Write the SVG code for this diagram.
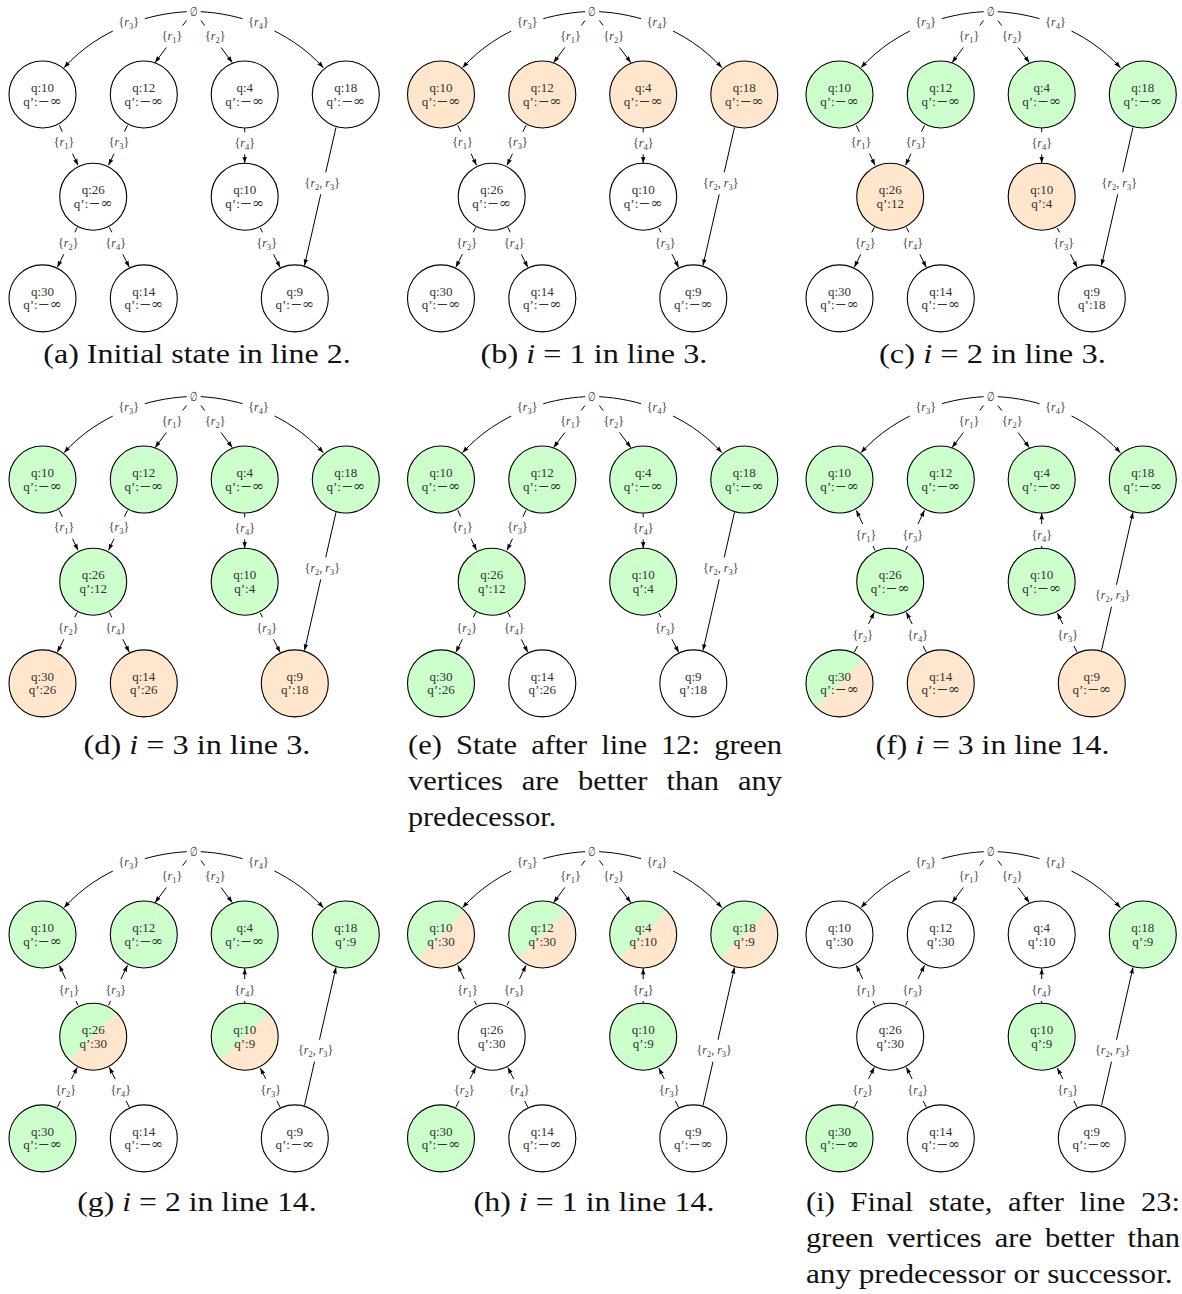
<svg xmlns="http://www.w3.org/2000/svg" width="1182" height="1294" viewBox="0 0 1182 1294">
<defs>
<style>
.nd{stroke:#000;stroke-width:1.1}
.w{fill:#fff}.g{fill:#ccffcc}.o{fill:#ffe6cc}.nf{fill:none}
.t{font-family:"Liberation Serif",serif;font-size:13px;fill:#333;text-anchor:middle}
.inf{font-family:"DejaVu Serif",serif;font-size:14.5px}
.e{fill:none;stroke:#000;stroke-width:1;marker-end:url(#ah)}
.lbl rect{fill:#fff}
.lbl text{font-family:"Liberation Serif",serif;font-size:12px;fill:#444;text-anchor:middle}
.it{font-style:italic}
.sb{font-size:8.5px}
.root{font-family:"DejaVu Serif",serif;font-size:11px;fill:#333;text-anchor:middle}
.cap{font-family:"Liberation Serif",serif;font-size:28px;fill:#111}
</style>
<marker id="ah" markerUnits="userSpaceOnUse" markerWidth="8" markerHeight="6" refX="6.5" refY="3" orient="auto"><path d="M0,0.7 L6.5,3 L0,5.3 Q1.2,3 0,0.7 Z" fill="#000"/></marker>
</defs>
<rect width="1182" height="1294" fill="#fff"/>

<!-- Panel a -->
<g id="panel-a" transform="translate(0,0)">
<g id="a-edges">
<path class="e" d="M186.7,11.7 C150,13.5 100,28 64,67.7"/>
<path class="e" d="M186.5,20.5 L155,62.7"/>
<path class="e" d="M200.9,20.5 L232.4,62.7"/>
<path class="e" d="M200.7,11.7 C237.4,13.5 287.4,28 323.4,67.7"/>
<path class="e" d="M59.3,125.3 L78,165.3"/>
<path class="e" d="M127.5,125.3 L108.5,165.3"/>
<path class="e" d="M244.7,128.2 L244.7,163.2"/>
<path class="e" d="M336,127.3 L304.5,265.5"/>
<path class="e" d="M77.3,227.3 L57.3,267.3"/>
<path class="e" d="M109.3,227.3 L129.3,267.3"/>
<path class="e" d="M260.3,228 L280.2,267.5"/>
<g class="lbl"><rect x="112.8" y="11.5" width="32" height="22"/><text x="128.8" y="26">{<tspan class="it">r</tspan><tspan class="sb" dy="3">3</tspan><tspan dy="-3">}</tspan></text></g>
<g class="lbl"><rect x="156" y="25.5" width="32" height="22"/><text x="172" y="40">{<tspan class="it">r</tspan><tspan class="sb" dy="3">1</tspan><tspan dy="-3">}</tspan></text></g>
<g class="lbl"><rect x="199.3" y="25.5" width="32" height="22"/><text x="215.3" y="40">{<tspan class="it">r</tspan><tspan class="sb" dy="3">2</tspan><tspan dy="-3">}</tspan></text></g>
<g class="lbl"><rect x="242.5" y="11.5" width="32" height="22"/><text x="258.5" y="26">{<tspan class="it">r</tspan><tspan class="sb" dy="3">4</tspan><tspan dy="-3">}</tspan></text></g>
<g class="lbl"><rect x="48" y="131.7" width="32" height="22"/><text x="64" y="146.2">{<tspan class="it">r</tspan><tspan class="sb" dy="3">1</tspan><tspan dy="-3">}</tspan></text></g>
<g class="lbl"><rect x="103" y="131.7" width="32" height="22"/><text x="119" y="146.2">{<tspan class="it">r</tspan><tspan class="sb" dy="3">3</tspan><tspan dy="-3">}</tspan></text></g>
<g class="lbl"><rect x="228.7" y="132.3" width="32" height="22"/><text x="244.7" y="146.8">{<tspan class="it">r</tspan><tspan class="sb" dy="3">4</tspan><tspan dy="-3">}</tspan></text></g>
<g class="lbl"><rect x="299.3" y="172.3" width="46" height="22"/><text x="322.3" y="186.8">{<tspan class="it">r</tspan><tspan class="sb" dy="3">2</tspan><tspan dy="-3">, </tspan><tspan class="it">r</tspan><tspan class="sb" dy="3">3</tspan><tspan dy="-3">}</tspan></text></g>
<g class="lbl"><rect x="52.3" y="232.3" width="32" height="22"/><text x="68.3" y="246.8">{<tspan class="it">r</tspan><tspan class="sb" dy="3">2</tspan><tspan dy="-3">}</tspan></text></g>
<g class="lbl"><rect x="99.7" y="232.3" width="32" height="22"/><text x="115.7" y="246.8">{<tspan class="it">r</tspan><tspan class="sb" dy="3">4</tspan><tspan dy="-3">}</tspan></text></g>
<g class="lbl"><rect x="250.7" y="232.3" width="32" height="22"/><text x="266.7" y="246.8">{<tspan class="it">r</tspan><tspan class="sb" dy="3">3</tspan><tspan dy="-3">}</tspan></text></g>
</g>
<g id="a-root"><text class="root" transform="translate(193.7,15.5) scale(0.8,1.2)">∅</text></g>
<g id="a-n1"><circle class="nd w" cx="42.5" cy="94.5" r="33.5"/><text class="t" x="42.5" y="92">q:10</text><text class="t" x="42.5" y="105.5">q’:<tspan class="inf">−∞</tspan></text></g>
<g id="a-n2"><circle class="nd w" cx="143.8" cy="94.5" r="33.5"/><text class="t" x="143.8" y="92">q:12</text><text class="t" x="143.8" y="105.5">q’:<tspan class="inf">−∞</tspan></text></g>
<g id="a-n3"><circle class="nd w" cx="244.7" cy="94.5" r="33.5"/><text class="t" x="244.7" y="92">q:4</text><text class="t" x="244.7" y="105.5">q’:<tspan class="inf">−∞</tspan></text></g>
<g id="a-n4"><circle class="nd w" cx="345.8" cy="94.5" r="33.5"/><text class="t" x="345.8" y="92">q:18</text><text class="t" x="345.8" y="105.5">q’:<tspan class="inf">−∞</tspan></text></g>
<g id="a-n5"><circle class="nd w" cx="93.2" cy="196.7" r="33.5"/><text class="t" x="93.2" y="194.2">q:26</text><text class="t" x="93.2" y="207.7">q’:<tspan class="inf">−∞</tspan></text></g>
<g id="a-n6"><circle class="nd w" cx="244.7" cy="196.7" r="33.5"/><text class="t" x="244.7" y="194.2">q:10</text><text class="t" x="244.7" y="207.7">q’:<tspan class="inf">−∞</tspan></text></g>
<g id="a-n7"><circle class="nd w" cx="42.5" cy="298.4" r="33.5"/><text class="t" x="42.5" y="295.9">q:30</text><text class="t" x="42.5" y="309.4">q’:<tspan class="inf">−∞</tspan></text></g>
<g id="a-n8"><circle class="nd w" cx="143.8" cy="298.4" r="33.5"/><text class="t" x="143.8" y="295.9">q:14</text><text class="t" x="143.8" y="309.4">q’:<tspan class="inf">−∞</tspan></text></g>
<g id="a-n9"><circle class="nd w" cx="294.8" cy="298.4" r="33.5"/><text class="t" x="294.8" y="295.9">q:9</text><text class="t" x="294.8" y="309.4">q’:<tspan class="inf">−∞</tspan></text></g>
</g>

<!-- Panel b -->
<g id="panel-b" transform="translate(398.5,0)">
<g id="b-edges">
<path class="e" d="M186.7,11.7 C150,13.5 100,28 64,67.7"/>
<path class="e" d="M186.5,20.5 L155,62.7"/>
<path class="e" d="M200.9,20.5 L232.4,62.7"/>
<path class="e" d="M200.7,11.7 C237.4,13.5 287.4,28 323.4,67.7"/>
<path class="e" d="M59.3,125.3 L78,165.3"/>
<path class="e" d="M127.5,125.3 L108.5,165.3"/>
<path class="e" d="M244.7,128.2 L244.7,163.2"/>
<path class="e" d="M336,127.3 L304.5,265.5"/>
<path class="e" d="M77.3,227.3 L57.3,267.3"/>
<path class="e" d="M109.3,227.3 L129.3,267.3"/>
<path class="e" d="M260.3,228 L280.2,267.5"/>
<g class="lbl"><rect x="112.8" y="11.5" width="32" height="22"/><text x="128.8" y="26">{<tspan class="it">r</tspan><tspan class="sb" dy="3">3</tspan><tspan dy="-3">}</tspan></text></g>
<g class="lbl"><rect x="156" y="25.5" width="32" height="22"/><text x="172" y="40">{<tspan class="it">r</tspan><tspan class="sb" dy="3">1</tspan><tspan dy="-3">}</tspan></text></g>
<g class="lbl"><rect x="199.3" y="25.5" width="32" height="22"/><text x="215.3" y="40">{<tspan class="it">r</tspan><tspan class="sb" dy="3">2</tspan><tspan dy="-3">}</tspan></text></g>
<g class="lbl"><rect x="242.5" y="11.5" width="32" height="22"/><text x="258.5" y="26">{<tspan class="it">r</tspan><tspan class="sb" dy="3">4</tspan><tspan dy="-3">}</tspan></text></g>
<g class="lbl"><rect x="48" y="131.7" width="32" height="22"/><text x="64" y="146.2">{<tspan class="it">r</tspan><tspan class="sb" dy="3">1</tspan><tspan dy="-3">}</tspan></text></g>
<g class="lbl"><rect x="103" y="131.7" width="32" height="22"/><text x="119" y="146.2">{<tspan class="it">r</tspan><tspan class="sb" dy="3">3</tspan><tspan dy="-3">}</tspan></text></g>
<g class="lbl"><rect x="228.7" y="132.3" width="32" height="22"/><text x="244.7" y="146.8">{<tspan class="it">r</tspan><tspan class="sb" dy="3">4</tspan><tspan dy="-3">}</tspan></text></g>
<g class="lbl"><rect x="299.3" y="172.3" width="46" height="22"/><text x="322.3" y="186.8">{<tspan class="it">r</tspan><tspan class="sb" dy="3">2</tspan><tspan dy="-3">, </tspan><tspan class="it">r</tspan><tspan class="sb" dy="3">3</tspan><tspan dy="-3">}</tspan></text></g>
<g class="lbl"><rect x="52.3" y="232.3" width="32" height="22"/><text x="68.3" y="246.8">{<tspan class="it">r</tspan><tspan class="sb" dy="3">2</tspan><tspan dy="-3">}</tspan></text></g>
<g class="lbl"><rect x="99.7" y="232.3" width="32" height="22"/><text x="115.7" y="246.8">{<tspan class="it">r</tspan><tspan class="sb" dy="3">4</tspan><tspan dy="-3">}</tspan></text></g>
<g class="lbl"><rect x="250.7" y="232.3" width="32" height="22"/><text x="266.7" y="246.8">{<tspan class="it">r</tspan><tspan class="sb" dy="3">3</tspan><tspan dy="-3">}</tspan></text></g>
</g>
<g id="b-root"><text class="root" transform="translate(193.7,15.5) scale(0.8,1.2)">∅</text></g>
<g id="b-n1"><circle class="nd o" cx="42.5" cy="94.5" r="33.5"/><text class="t" x="42.5" y="92">q:10</text><text class="t" x="42.5" y="105.5">q’:<tspan class="inf">−∞</tspan></text></g>
<g id="b-n2"><circle class="nd o" cx="143.8" cy="94.5" r="33.5"/><text class="t" x="143.8" y="92">q:12</text><text class="t" x="143.8" y="105.5">q’:<tspan class="inf">−∞</tspan></text></g>
<g id="b-n3"><circle class="nd o" cx="244.7" cy="94.5" r="33.5"/><text class="t" x="244.7" y="92">q:4</text><text class="t" x="244.7" y="105.5">q’:<tspan class="inf">−∞</tspan></text></g>
<g id="b-n4"><circle class="nd o" cx="345.8" cy="94.5" r="33.5"/><text class="t" x="345.8" y="92">q:18</text><text class="t" x="345.8" y="105.5">q’:<tspan class="inf">−∞</tspan></text></g>
<g id="b-n5"><circle class="nd w" cx="93.2" cy="196.7" r="33.5"/><text class="t" x="93.2" y="194.2">q:26</text><text class="t" x="93.2" y="207.7">q’:<tspan class="inf">−∞</tspan></text></g>
<g id="b-n6"><circle class="nd w" cx="244.7" cy="196.7" r="33.5"/><text class="t" x="244.7" y="194.2">q:10</text><text class="t" x="244.7" y="207.7">q’:<tspan class="inf">−∞</tspan></text></g>
<g id="b-n7"><circle class="nd w" cx="42.5" cy="298.4" r="33.5"/><text class="t" x="42.5" y="295.9">q:30</text><text class="t" x="42.5" y="309.4">q’:<tspan class="inf">−∞</tspan></text></g>
<g id="b-n8"><circle class="nd w" cx="143.8" cy="298.4" r="33.5"/><text class="t" x="143.8" y="295.9">q:14</text><text class="t" x="143.8" y="309.4">q’:<tspan class="inf">−∞</tspan></text></g>
<g id="b-n9"><circle class="nd w" cx="294.8" cy="298.4" r="33.5"/><text class="t" x="294.8" y="295.9">q:9</text><text class="t" x="294.8" y="309.4">q’:<tspan class="inf">−∞</tspan></text></g>
</g>

<!-- Panel c -->
<g id="panel-c" transform="translate(797,0)">
<g id="c-edges">
<path class="e" d="M186.7,11.7 C150,13.5 100,28 64,67.7"/>
<path class="e" d="M186.5,20.5 L155,62.7"/>
<path class="e" d="M200.9,20.5 L232.4,62.7"/>
<path class="e" d="M200.7,11.7 C237.4,13.5 287.4,28 323.4,67.7"/>
<path class="e" d="M59.3,125.3 L78,165.3"/>
<path class="e" d="M127.5,125.3 L108.5,165.3"/>
<path class="e" d="M244.7,128.2 L244.7,163.2"/>
<path class="e" d="M336,127.3 L304.5,265.5"/>
<path class="e" d="M77.3,227.3 L57.3,267.3"/>
<path class="e" d="M109.3,227.3 L129.3,267.3"/>
<path class="e" d="M260.3,228 L280.2,267.5"/>
<g class="lbl"><rect x="112.8" y="11.5" width="32" height="22"/><text x="128.8" y="26">{<tspan class="it">r</tspan><tspan class="sb" dy="3">3</tspan><tspan dy="-3">}</tspan></text></g>
<g class="lbl"><rect x="156" y="25.5" width="32" height="22"/><text x="172" y="40">{<tspan class="it">r</tspan><tspan class="sb" dy="3">1</tspan><tspan dy="-3">}</tspan></text></g>
<g class="lbl"><rect x="199.3" y="25.5" width="32" height="22"/><text x="215.3" y="40">{<tspan class="it">r</tspan><tspan class="sb" dy="3">2</tspan><tspan dy="-3">}</tspan></text></g>
<g class="lbl"><rect x="242.5" y="11.5" width="32" height="22"/><text x="258.5" y="26">{<tspan class="it">r</tspan><tspan class="sb" dy="3">4</tspan><tspan dy="-3">}</tspan></text></g>
<g class="lbl"><rect x="48" y="131.7" width="32" height="22"/><text x="64" y="146.2">{<tspan class="it">r</tspan><tspan class="sb" dy="3">1</tspan><tspan dy="-3">}</tspan></text></g>
<g class="lbl"><rect x="103" y="131.7" width="32" height="22"/><text x="119" y="146.2">{<tspan class="it">r</tspan><tspan class="sb" dy="3">3</tspan><tspan dy="-3">}</tspan></text></g>
<g class="lbl"><rect x="228.7" y="132.3" width="32" height="22"/><text x="244.7" y="146.8">{<tspan class="it">r</tspan><tspan class="sb" dy="3">4</tspan><tspan dy="-3">}</tspan></text></g>
<g class="lbl"><rect x="299.3" y="172.3" width="46" height="22"/><text x="322.3" y="186.8">{<tspan class="it">r</tspan><tspan class="sb" dy="3">2</tspan><tspan dy="-3">, </tspan><tspan class="it">r</tspan><tspan class="sb" dy="3">3</tspan><tspan dy="-3">}</tspan></text></g>
<g class="lbl"><rect x="52.3" y="232.3" width="32" height="22"/><text x="68.3" y="246.8">{<tspan class="it">r</tspan><tspan class="sb" dy="3">2</tspan><tspan dy="-3">}</tspan></text></g>
<g class="lbl"><rect x="99.7" y="232.3" width="32" height="22"/><text x="115.7" y="246.8">{<tspan class="it">r</tspan><tspan class="sb" dy="3">4</tspan><tspan dy="-3">}</tspan></text></g>
<g class="lbl"><rect x="250.7" y="232.3" width="32" height="22"/><text x="266.7" y="246.8">{<tspan class="it">r</tspan><tspan class="sb" dy="3">3</tspan><tspan dy="-3">}</tspan></text></g>
</g>
<g id="c-root"><text class="root" transform="translate(193.7,15.5) scale(0.8,1.2)">∅</text></g>
<g id="c-n1"><circle class="nd g" cx="42.5" cy="94.5" r="33.5"/><text class="t" x="42.5" y="92">q:10</text><text class="t" x="42.5" y="105.5">q’:<tspan class="inf">−∞</tspan></text></g>
<g id="c-n2"><circle class="nd g" cx="143.8" cy="94.5" r="33.5"/><text class="t" x="143.8" y="92">q:12</text><text class="t" x="143.8" y="105.5">q’:<tspan class="inf">−∞</tspan></text></g>
<g id="c-n3"><circle class="nd g" cx="244.7" cy="94.5" r="33.5"/><text class="t" x="244.7" y="92">q:4</text><text class="t" x="244.7" y="105.5">q’:<tspan class="inf">−∞</tspan></text></g>
<g id="c-n4"><circle class="nd g" cx="345.8" cy="94.5" r="33.5"/><text class="t" x="345.8" y="92">q:18</text><text class="t" x="345.8" y="105.5">q’:<tspan class="inf">−∞</tspan></text></g>
<g id="c-n5"><circle class="nd o" cx="93.2" cy="196.7" r="33.5"/><text class="t" x="93.2" y="194.2">q:26</text><text class="t" x="93.2" y="207.7">q’:12</text></g>
<g id="c-n6"><circle class="nd o" cx="244.7" cy="196.7" r="33.5"/><text class="t" x="244.7" y="194.2">q:10</text><text class="t" x="244.7" y="207.7">q’:4</text></g>
<g id="c-n7"><circle class="nd w" cx="42.5" cy="298.4" r="33.5"/><text class="t" x="42.5" y="295.9">q:30</text><text class="t" x="42.5" y="309.4">q’:<tspan class="inf">−∞</tspan></text></g>
<g id="c-n8"><circle class="nd w" cx="143.8" cy="298.4" r="33.5"/><text class="t" x="143.8" y="295.9">q:14</text><text class="t" x="143.8" y="309.4">q’:<tspan class="inf">−∞</tspan></text></g>
<g id="c-n9"><circle class="nd w" cx="294.8" cy="298.4" r="33.5"/><text class="t" x="294.8" y="295.9">q:9</text><text class="t" x="294.8" y="309.4">q’:18</text></g>
</g>

<!-- Panel d -->
<g id="panel-d" transform="translate(0,385)">
<g id="d-edges">
<path class="e" d="M186.7,11.7 C150,13.5 100,28 64,67.7"/>
<path class="e" d="M186.5,20.5 L155,62.7"/>
<path class="e" d="M200.9,20.5 L232.4,62.7"/>
<path class="e" d="M200.7,11.7 C237.4,13.5 287.4,28 323.4,67.7"/>
<path class="e" d="M59.3,125.3 L78,165.3"/>
<path class="e" d="M127.5,125.3 L108.5,165.3"/>
<path class="e" d="M244.7,128.2 L244.7,163.2"/>
<path class="e" d="M336,127.3 L304.5,265.5"/>
<path class="e" d="M77.3,227.3 L57.3,267.3"/>
<path class="e" d="M109.3,227.3 L129.3,267.3"/>
<path class="e" d="M260.3,228 L280.2,267.5"/>
<g class="lbl"><rect x="112.8" y="11.5" width="32" height="22"/><text x="128.8" y="26">{<tspan class="it">r</tspan><tspan class="sb" dy="3">3</tspan><tspan dy="-3">}</tspan></text></g>
<g class="lbl"><rect x="156" y="25.5" width="32" height="22"/><text x="172" y="40">{<tspan class="it">r</tspan><tspan class="sb" dy="3">1</tspan><tspan dy="-3">}</tspan></text></g>
<g class="lbl"><rect x="199.3" y="25.5" width="32" height="22"/><text x="215.3" y="40">{<tspan class="it">r</tspan><tspan class="sb" dy="3">2</tspan><tspan dy="-3">}</tspan></text></g>
<g class="lbl"><rect x="242.5" y="11.5" width="32" height="22"/><text x="258.5" y="26">{<tspan class="it">r</tspan><tspan class="sb" dy="3">4</tspan><tspan dy="-3">}</tspan></text></g>
<g class="lbl"><rect x="48" y="131.7" width="32" height="22"/><text x="64" y="146.2">{<tspan class="it">r</tspan><tspan class="sb" dy="3">1</tspan><tspan dy="-3">}</tspan></text></g>
<g class="lbl"><rect x="103" y="131.7" width="32" height="22"/><text x="119" y="146.2">{<tspan class="it">r</tspan><tspan class="sb" dy="3">3</tspan><tspan dy="-3">}</tspan></text></g>
<g class="lbl"><rect x="228.7" y="132.3" width="32" height="22"/><text x="244.7" y="146.8">{<tspan class="it">r</tspan><tspan class="sb" dy="3">4</tspan><tspan dy="-3">}</tspan></text></g>
<g class="lbl"><rect x="299.3" y="172.3" width="46" height="22"/><text x="322.3" y="186.8">{<tspan class="it">r</tspan><tspan class="sb" dy="3">2</tspan><tspan dy="-3">, </tspan><tspan class="it">r</tspan><tspan class="sb" dy="3">3</tspan><tspan dy="-3">}</tspan></text></g>
<g class="lbl"><rect x="52.3" y="232.3" width="32" height="22"/><text x="68.3" y="246.8">{<tspan class="it">r</tspan><tspan class="sb" dy="3">2</tspan><tspan dy="-3">}</tspan></text></g>
<g class="lbl"><rect x="99.7" y="232.3" width="32" height="22"/><text x="115.7" y="246.8">{<tspan class="it">r</tspan><tspan class="sb" dy="3">4</tspan><tspan dy="-3">}</tspan></text></g>
<g class="lbl"><rect x="250.7" y="232.3" width="32" height="22"/><text x="266.7" y="246.8">{<tspan class="it">r</tspan><tspan class="sb" dy="3">3</tspan><tspan dy="-3">}</tspan></text></g>
</g>
<g id="d-root"><text class="root" transform="translate(193.7,15.5) scale(0.8,1.2)">∅</text></g>
<g id="d-n1"><circle class="nd g" cx="42.5" cy="94.5" r="33.5"/><text class="t" x="42.5" y="92">q:10</text><text class="t" x="42.5" y="105.5">q’:<tspan class="inf">−∞</tspan></text></g>
<g id="d-n2"><circle class="nd g" cx="143.8" cy="94.5" r="33.5"/><text class="t" x="143.8" y="92">q:12</text><text class="t" x="143.8" y="105.5">q’:<tspan class="inf">−∞</tspan></text></g>
<g id="d-n3"><circle class="nd g" cx="244.7" cy="94.5" r="33.5"/><text class="t" x="244.7" y="92">q:4</text><text class="t" x="244.7" y="105.5">q’:<tspan class="inf">−∞</tspan></text></g>
<g id="d-n4"><circle class="nd g" cx="345.8" cy="94.5" r="33.5"/><text class="t" x="345.8" y="92">q:18</text><text class="t" x="345.8" y="105.5">q’:<tspan class="inf">−∞</tspan></text></g>
<g id="d-n5"><circle class="nd g" cx="93.2" cy="196.7" r="33.5"/><text class="t" x="93.2" y="194.2">q:26</text><text class="t" x="93.2" y="207.7">q’:12</text></g>
<g id="d-n6"><circle class="nd g" cx="244.7" cy="196.7" r="33.5"/><text class="t" x="244.7" y="194.2">q:10</text><text class="t" x="244.7" y="207.7">q’:4</text></g>
<g id="d-n7"><circle class="nd o" cx="42.5" cy="298.4" r="33.5"/><text class="t" x="42.5" y="295.9">q:30</text><text class="t" x="42.5" y="309.4">q’:26</text></g>
<g id="d-n8"><circle class="nd o" cx="143.8" cy="298.4" r="33.5"/><text class="t" x="143.8" y="295.9">q:14</text><text class="t" x="143.8" y="309.4">q’:26</text></g>
<g id="d-n9"><circle class="nd o" cx="294.8" cy="298.4" r="33.5"/><text class="t" x="294.8" y="295.9">q:9</text><text class="t" x="294.8" y="309.4">q’:18</text></g>
</g>

<!-- Panel e -->
<g id="panel-e" transform="translate(398.5,385)">
<g id="e-edges">
<path class="e" d="M186.7,11.7 C150,13.5 100,28 64,67.7"/>
<path class="e" d="M186.5,20.5 L155,62.7"/>
<path class="e" d="M200.9,20.5 L232.4,62.7"/>
<path class="e" d="M200.7,11.7 C237.4,13.5 287.4,28 323.4,67.7"/>
<path class="e" d="M59.3,125.3 L78,165.3"/>
<path class="e" d="M127.5,125.3 L108.5,165.3"/>
<path class="e" d="M244.7,128.2 L244.7,163.2"/>
<path class="e" d="M336,127.3 L304.5,265.5"/>
<path class="e" d="M77.3,227.3 L57.3,267.3"/>
<path class="e" d="M109.3,227.3 L129.3,267.3"/>
<path class="e" d="M260.3,228 L280.2,267.5"/>
<g class="lbl"><rect x="112.8" y="11.5" width="32" height="22"/><text x="128.8" y="26">{<tspan class="it">r</tspan><tspan class="sb" dy="3">3</tspan><tspan dy="-3">}</tspan></text></g>
<g class="lbl"><rect x="156" y="25.5" width="32" height="22"/><text x="172" y="40">{<tspan class="it">r</tspan><tspan class="sb" dy="3">1</tspan><tspan dy="-3">}</tspan></text></g>
<g class="lbl"><rect x="199.3" y="25.5" width="32" height="22"/><text x="215.3" y="40">{<tspan class="it">r</tspan><tspan class="sb" dy="3">2</tspan><tspan dy="-3">}</tspan></text></g>
<g class="lbl"><rect x="242.5" y="11.5" width="32" height="22"/><text x="258.5" y="26">{<tspan class="it">r</tspan><tspan class="sb" dy="3">4</tspan><tspan dy="-3">}</tspan></text></g>
<g class="lbl"><rect x="48" y="131.7" width="32" height="22"/><text x="64" y="146.2">{<tspan class="it">r</tspan><tspan class="sb" dy="3">1</tspan><tspan dy="-3">}</tspan></text></g>
<g class="lbl"><rect x="103" y="131.7" width="32" height="22"/><text x="119" y="146.2">{<tspan class="it">r</tspan><tspan class="sb" dy="3">3</tspan><tspan dy="-3">}</tspan></text></g>
<g class="lbl"><rect x="228.7" y="132.3" width="32" height="22"/><text x="244.7" y="146.8">{<tspan class="it">r</tspan><tspan class="sb" dy="3">4</tspan><tspan dy="-3">}</tspan></text></g>
<g class="lbl"><rect x="299.3" y="172.3" width="46" height="22"/><text x="322.3" y="186.8">{<tspan class="it">r</tspan><tspan class="sb" dy="3">2</tspan><tspan dy="-3">, </tspan><tspan class="it">r</tspan><tspan class="sb" dy="3">3</tspan><tspan dy="-3">}</tspan></text></g>
<g class="lbl"><rect x="52.3" y="232.3" width="32" height="22"/><text x="68.3" y="246.8">{<tspan class="it">r</tspan><tspan class="sb" dy="3">2</tspan><tspan dy="-3">}</tspan></text></g>
<g class="lbl"><rect x="99.7" y="232.3" width="32" height="22"/><text x="115.7" y="246.8">{<tspan class="it">r</tspan><tspan class="sb" dy="3">4</tspan><tspan dy="-3">}</tspan></text></g>
<g class="lbl"><rect x="250.7" y="232.3" width="32" height="22"/><text x="266.7" y="246.8">{<tspan class="it">r</tspan><tspan class="sb" dy="3">3</tspan><tspan dy="-3">}</tspan></text></g>
</g>
<g id="e-root"><text class="root" transform="translate(193.7,15.5) scale(0.8,1.2)">∅</text></g>
<g id="e-n1"><circle class="nd g" cx="42.5" cy="94.5" r="33.5"/><text class="t" x="42.5" y="92">q:10</text><text class="t" x="42.5" y="105.5">q’:<tspan class="inf">−∞</tspan></text></g>
<g id="e-n2"><circle class="nd g" cx="143.8" cy="94.5" r="33.5"/><text class="t" x="143.8" y="92">q:12</text><text class="t" x="143.8" y="105.5">q’:<tspan class="inf">−∞</tspan></text></g>
<g id="e-n3"><circle class="nd g" cx="244.7" cy="94.5" r="33.5"/><text class="t" x="244.7" y="92">q:4</text><text class="t" x="244.7" y="105.5">q’:<tspan class="inf">−∞</tspan></text></g>
<g id="e-n4"><circle class="nd g" cx="345.8" cy="94.5" r="33.5"/><text class="t" x="345.8" y="92">q:18</text><text class="t" x="345.8" y="105.5">q’:<tspan class="inf">−∞</tspan></text></g>
<g id="e-n5"><circle class="nd g" cx="93.2" cy="196.7" r="33.5"/><text class="t" x="93.2" y="194.2">q:26</text><text class="t" x="93.2" y="207.7">q’:12</text></g>
<g id="e-n6"><circle class="nd g" cx="244.7" cy="196.7" r="33.5"/><text class="t" x="244.7" y="194.2">q:10</text><text class="t" x="244.7" y="207.7">q’:4</text></g>
<g id="e-n7"><circle class="nd g" cx="42.5" cy="298.4" r="33.5"/><text class="t" x="42.5" y="295.9">q:30</text><text class="t" x="42.5" y="309.4">q’:26</text></g>
<g id="e-n8"><circle class="nd w" cx="143.8" cy="298.4" r="33.5"/><text class="t" x="143.8" y="295.9">q:14</text><text class="t" x="143.8" y="309.4">q’:26</text></g>
<g id="e-n9"><circle class="nd w" cx="294.8" cy="298.4" r="33.5"/><text class="t" x="294.8" y="295.9">q:9</text><text class="t" x="294.8" y="309.4">q’:18</text></g>
</g>

<!-- Panel f -->
<g id="panel-f" transform="translate(797,385)">
<g id="f-edges">
<path class="e" d="M186.7,11.7 C150,13.5 100,28 64,67.7"/>
<path class="e" d="M186.5,20.5 L155,62.7"/>
<path class="e" d="M200.9,20.5 L232.4,62.7"/>
<path class="e" d="M200.7,11.7 C237.4,13.5 287.4,28 323.4,67.7"/>
<path class="e" d="M78,165.3 L59.3,125.3"/>
<path class="e" d="M108.5,165.3 L127.5,125.3"/>
<path class="e" d="M244.7,163.2 L244.7,128.2"/>
<path class="e" d="M304.5,265.5 L336,127.3"/>
<path class="e" d="M57.3,267.3 L77.3,227.3"/>
<path class="e" d="M129.3,267.3 L109.3,227.3"/>
<path class="e" d="M280.2,267.5 L260.3,228"/>
<g class="lbl"><rect x="112.8" y="11.5" width="32" height="22"/><text x="128.8" y="26">{<tspan class="it">r</tspan><tspan class="sb" dy="3">3</tspan><tspan dy="-3">}</tspan></text></g>
<g class="lbl"><rect x="156" y="25.5" width="32" height="22"/><text x="172" y="40">{<tspan class="it">r</tspan><tspan class="sb" dy="3">1</tspan><tspan dy="-3">}</tspan></text></g>
<g class="lbl"><rect x="199.3" y="25.5" width="32" height="22"/><text x="215.3" y="40">{<tspan class="it">r</tspan><tspan class="sb" dy="3">2</tspan><tspan dy="-3">}</tspan></text></g>
<g class="lbl"><rect x="242.5" y="11.5" width="32" height="22"/><text x="258.5" y="26">{<tspan class="it">r</tspan><tspan class="sb" dy="3">4</tspan><tspan dy="-3">}</tspan></text></g>
<g class="lbl"><rect x="53" y="139" width="32" height="22"/><text x="69" y="153.5">{<tspan class="it">r</tspan><tspan class="sb" dy="3">1</tspan><tspan dy="-3">}</tspan></text></g>
<g class="lbl"><rect x="99.7" y="139" width="32" height="22"/><text x="115.7" y="153.5">{<tspan class="it">r</tspan><tspan class="sb" dy="3">3</tspan><tspan dy="-3">}</tspan></text></g>
<g class="lbl"><rect x="228.7" y="139" width="32" height="22"/><text x="244.7" y="153.5">{<tspan class="it">r</tspan><tspan class="sb" dy="3">4</tspan><tspan dy="-3">}</tspan></text></g>
<g class="lbl"><rect x="292.7" y="199.7" width="46" height="22"/><text x="315.7" y="214.2">{<tspan class="it">r</tspan><tspan class="sb" dy="3">2</tspan><tspan dy="-3">, </tspan><tspan class="it">r</tspan><tspan class="sb" dy="3">3</tspan><tspan dy="-3">}</tspan></text></g>
<g class="lbl"><rect x="49.7" y="239" width="32" height="22"/><text x="65.7" y="253.5">{<tspan class="it">r</tspan><tspan class="sb" dy="3">2</tspan><tspan dy="-3">}</tspan></text></g>
<g class="lbl"><rect x="104.7" y="239" width="32" height="22"/><text x="120.7" y="253.5">{<tspan class="it">r</tspan><tspan class="sb" dy="3">4</tspan><tspan dy="-3">}</tspan></text></g>
<g class="lbl"><rect x="254.7" y="239" width="32" height="22"/><text x="270.7" y="253.5">{<tspan class="it">r</tspan><tspan class="sb" dy="3">3</tspan><tspan dy="-3">}</tspan></text></g>
</g>
<g id="f-root"><text class="root" transform="translate(193.7,15.5) scale(0.8,1.2)">∅</text></g>
<g id="f-n1"><circle class="nd g" cx="42.5" cy="94.5" r="33.5"/><text class="t" x="42.5" y="92">q:10</text><text class="t" x="42.5" y="105.5">q’:<tspan class="inf">−∞</tspan></text></g>
<g id="f-n2"><circle class="nd g" cx="143.8" cy="94.5" r="33.5"/><text class="t" x="143.8" y="92">q:12</text><text class="t" x="143.8" y="105.5">q’:<tspan class="inf">−∞</tspan></text></g>
<g id="f-n3"><circle class="nd g" cx="244.7" cy="94.5" r="33.5"/><text class="t" x="244.7" y="92">q:4</text><text class="t" x="244.7" y="105.5">q’:<tspan class="inf">−∞</tspan></text></g>
<g id="f-n4"><circle class="nd g" cx="345.8" cy="94.5" r="33.5"/><text class="t" x="345.8" y="92">q:18</text><text class="t" x="345.8" y="105.5">q’:<tspan class="inf">−∞</tspan></text></g>
<g id="f-n5"><circle class="nd g" cx="93.2" cy="196.7" r="33.5"/><text class="t" x="93.2" y="194.2">q:26</text><text class="t" x="93.2" y="207.7">q’:<tspan class="inf">−∞</tspan></text></g>
<g id="f-n6"><circle class="nd g" cx="244.7" cy="196.7" r="33.5"/><text class="t" x="244.7" y="194.2">q:10</text><text class="t" x="244.7" y="207.7">q’:<tspan class="inf">−∞</tspan></text></g>
<g id="f-n7"><circle class="g" cx="42.5" cy="298.4" r="33.5"/><path class="o" d="M18.81,322.09A33.5,33.5 0 0 0 66.19,274.71Z"/><circle class="nd nf" cx="42.5" cy="298.4" r="33.5"/><text class="t" x="42.5" y="295.9">q:30</text><text class="t" x="42.5" y="309.4">q’:<tspan class="inf">−∞</tspan></text></g>
<g id="f-n8"><circle class="nd o" cx="143.8" cy="298.4" r="33.5"/><text class="t" x="143.8" y="295.9">q:14</text><text class="t" x="143.8" y="309.4">q’:<tspan class="inf">−∞</tspan></text></g>
<g id="f-n9"><circle class="nd o" cx="294.8" cy="298.4" r="33.5"/><text class="t" x="294.8" y="295.9">q:9</text><text class="t" x="294.8" y="309.4">q’:<tspan class="inf">−∞</tspan></text></g>
</g>

<!-- Panel g -->
<g id="panel-g" transform="translate(0,840)">
<g id="g-edges">
<path class="e" d="M186.7,11.7 C150,13.5 100,28 64,67.7"/>
<path class="e" d="M186.5,20.5 L155,62.7"/>
<path class="e" d="M200.9,20.5 L232.4,62.7"/>
<path class="e" d="M200.7,11.7 C237.4,13.5 287.4,28 323.4,67.7"/>
<path class="e" d="M78,165.3 L59.3,125.3"/>
<path class="e" d="M108.5,165.3 L127.5,125.3"/>
<path class="e" d="M244.7,163.2 L244.7,128.2"/>
<path class="e" d="M304.5,265.5 L336,127.3"/>
<path class="e" d="M57.3,267.3 L77.3,227.3"/>
<path class="e" d="M129.3,267.3 L109.3,227.3"/>
<path class="e" d="M280.2,267.5 L260.3,228"/>
<g class="lbl"><rect x="112.8" y="11.5" width="32" height="22"/><text x="128.8" y="26">{<tspan class="it">r</tspan><tspan class="sb" dy="3">3</tspan><tspan dy="-3">}</tspan></text></g>
<g class="lbl"><rect x="156" y="25.5" width="32" height="22"/><text x="172" y="40">{<tspan class="it">r</tspan><tspan class="sb" dy="3">1</tspan><tspan dy="-3">}</tspan></text></g>
<g class="lbl"><rect x="199.3" y="25.5" width="32" height="22"/><text x="215.3" y="40">{<tspan class="it">r</tspan><tspan class="sb" dy="3">2</tspan><tspan dy="-3">}</tspan></text></g>
<g class="lbl"><rect x="242.5" y="11.5" width="32" height="22"/><text x="258.5" y="26">{<tspan class="it">r</tspan><tspan class="sb" dy="3">4</tspan><tspan dy="-3">}</tspan></text></g>
<g class="lbl"><rect x="53" y="139" width="32" height="22"/><text x="69" y="153.5">{<tspan class="it">r</tspan><tspan class="sb" dy="3">1</tspan><tspan dy="-3">}</tspan></text></g>
<g class="lbl"><rect x="99.7" y="139" width="32" height="22"/><text x="115.7" y="153.5">{<tspan class="it">r</tspan><tspan class="sb" dy="3">3</tspan><tspan dy="-3">}</tspan></text></g>
<g class="lbl"><rect x="228.7" y="139" width="32" height="22"/><text x="244.7" y="153.5">{<tspan class="it">r</tspan><tspan class="sb" dy="3">4</tspan><tspan dy="-3">}</tspan></text></g>
<g class="lbl"><rect x="292.7" y="199.7" width="46" height="22"/><text x="315.7" y="214.2">{<tspan class="it">r</tspan><tspan class="sb" dy="3">2</tspan><tspan dy="-3">, </tspan><tspan class="it">r</tspan><tspan class="sb" dy="3">3</tspan><tspan dy="-3">}</tspan></text></g>
<g class="lbl"><rect x="49.7" y="239" width="32" height="22"/><text x="65.7" y="253.5">{<tspan class="it">r</tspan><tspan class="sb" dy="3">2</tspan><tspan dy="-3">}</tspan></text></g>
<g class="lbl"><rect x="104.7" y="239" width="32" height="22"/><text x="120.7" y="253.5">{<tspan class="it">r</tspan><tspan class="sb" dy="3">4</tspan><tspan dy="-3">}</tspan></text></g>
<g class="lbl"><rect x="254.7" y="239" width="32" height="22"/><text x="270.7" y="253.5">{<tspan class="it">r</tspan><tspan class="sb" dy="3">3</tspan><tspan dy="-3">}</tspan></text></g>
</g>
<g id="g-root"><text class="root" transform="translate(193.7,15.5) scale(0.8,1.2)">∅</text></g>
<g id="g-n1"><circle class="nd g" cx="42.5" cy="94.5" r="33.5"/><text class="t" x="42.5" y="92">q:10</text><text class="t" x="42.5" y="105.5">q’:<tspan class="inf">−∞</tspan></text></g>
<g id="g-n2"><circle class="nd g" cx="143.8" cy="94.5" r="33.5"/><text class="t" x="143.8" y="92">q:12</text><text class="t" x="143.8" y="105.5">q’:<tspan class="inf">−∞</tspan></text></g>
<g id="g-n3"><circle class="nd g" cx="244.7" cy="94.5" r="33.5"/><text class="t" x="244.7" y="92">q:4</text><text class="t" x="244.7" y="105.5">q’:<tspan class="inf">−∞</tspan></text></g>
<g id="g-n4"><circle class="nd g" cx="345.8" cy="94.5" r="33.5"/><text class="t" x="345.8" y="92">q:18</text><text class="t" x="345.8" y="105.5">q’:9</text></g>
<g id="g-n5"><circle class="g" cx="93.2" cy="196.7" r="33.5"/><path class="o" d="M69.51,220.39A33.5,33.5 0 0 0 116.89,173.01Z"/><circle class="nd nf" cx="93.2" cy="196.7" r="33.5"/><text class="t" x="93.2" y="194.2">q:26</text><text class="t" x="93.2" y="207.7">q’:30</text></g>
<g id="g-n6"><circle class="g" cx="244.7" cy="196.7" r="33.5"/><path class="o" d="M221.01,220.39A33.5,33.5 0 0 0 268.39,173.01Z"/><circle class="nd nf" cx="244.7" cy="196.7" r="33.5"/><text class="t" x="244.7" y="194.2">q:10</text><text class="t" x="244.7" y="207.7">q’:9</text></g>
<g id="g-n7"><circle class="nd g" cx="42.5" cy="298.4" r="33.5"/><text class="t" x="42.5" y="295.9">q:30</text><text class="t" x="42.5" y="309.4">q’:<tspan class="inf">−∞</tspan></text></g>
<g id="g-n8"><circle class="nd w" cx="143.8" cy="298.4" r="33.5"/><text class="t" x="143.8" y="295.9">q:14</text><text class="t" x="143.8" y="309.4">q’:<tspan class="inf">−∞</tspan></text></g>
<g id="g-n9"><circle class="nd w" cx="294.8" cy="298.4" r="33.5"/><text class="t" x="294.8" y="295.9">q:9</text><text class="t" x="294.8" y="309.4">q’:<tspan class="inf">−∞</tspan></text></g>
</g>

<!-- Panel h -->
<g id="panel-h" transform="translate(398.5,840)">
<g id="h-edges">
<path class="e" d="M186.7,11.7 C150,13.5 100,28 64,67.7"/>
<path class="e" d="M186.5,20.5 L155,62.7"/>
<path class="e" d="M200.9,20.5 L232.4,62.7"/>
<path class="e" d="M200.7,11.7 C237.4,13.5 287.4,28 323.4,67.7"/>
<path class="e" d="M78,165.3 L59.3,125.3"/>
<path class="e" d="M108.5,165.3 L127.5,125.3"/>
<path class="e" d="M244.7,163.2 L244.7,128.2"/>
<path class="e" d="M304.5,265.5 L336,127.3"/>
<path class="e" d="M57.3,267.3 L77.3,227.3"/>
<path class="e" d="M129.3,267.3 L109.3,227.3"/>
<path class="e" d="M280.2,267.5 L260.3,228"/>
<g class="lbl"><rect x="112.8" y="11.5" width="32" height="22"/><text x="128.8" y="26">{<tspan class="it">r</tspan><tspan class="sb" dy="3">3</tspan><tspan dy="-3">}</tspan></text></g>
<g class="lbl"><rect x="156" y="25.5" width="32" height="22"/><text x="172" y="40">{<tspan class="it">r</tspan><tspan class="sb" dy="3">1</tspan><tspan dy="-3">}</tspan></text></g>
<g class="lbl"><rect x="199.3" y="25.5" width="32" height="22"/><text x="215.3" y="40">{<tspan class="it">r</tspan><tspan class="sb" dy="3">2</tspan><tspan dy="-3">}</tspan></text></g>
<g class="lbl"><rect x="242.5" y="11.5" width="32" height="22"/><text x="258.5" y="26">{<tspan class="it">r</tspan><tspan class="sb" dy="3">4</tspan><tspan dy="-3">}</tspan></text></g>
<g class="lbl"><rect x="53" y="139" width="32" height="22"/><text x="69" y="153.5">{<tspan class="it">r</tspan><tspan class="sb" dy="3">1</tspan><tspan dy="-3">}</tspan></text></g>
<g class="lbl"><rect x="99.7" y="139" width="32" height="22"/><text x="115.7" y="153.5">{<tspan class="it">r</tspan><tspan class="sb" dy="3">3</tspan><tspan dy="-3">}</tspan></text></g>
<g class="lbl"><rect x="228.7" y="139" width="32" height="22"/><text x="244.7" y="153.5">{<tspan class="it">r</tspan><tspan class="sb" dy="3">4</tspan><tspan dy="-3">}</tspan></text></g>
<g class="lbl"><rect x="292.7" y="199.7" width="46" height="22"/><text x="315.7" y="214.2">{<tspan class="it">r</tspan><tspan class="sb" dy="3">2</tspan><tspan dy="-3">, </tspan><tspan class="it">r</tspan><tspan class="sb" dy="3">3</tspan><tspan dy="-3">}</tspan></text></g>
<g class="lbl"><rect x="49.7" y="239" width="32" height="22"/><text x="65.7" y="253.5">{<tspan class="it">r</tspan><tspan class="sb" dy="3">2</tspan><tspan dy="-3">}</tspan></text></g>
<g class="lbl"><rect x="104.7" y="239" width="32" height="22"/><text x="120.7" y="253.5">{<tspan class="it">r</tspan><tspan class="sb" dy="3">4</tspan><tspan dy="-3">}</tspan></text></g>
<g class="lbl"><rect x="254.7" y="239" width="32" height="22"/><text x="270.7" y="253.5">{<tspan class="it">r</tspan><tspan class="sb" dy="3">3</tspan><tspan dy="-3">}</tspan></text></g>
</g>
<g id="h-root"><text class="root" transform="translate(193.7,15.5) scale(0.8,1.2)">∅</text></g>
<g id="h-n1"><circle class="g" cx="42.5" cy="94.5" r="33.5"/><path class="o" d="M18.81,118.19A33.5,33.5 0 0 0 66.19,70.81Z"/><circle class="nd nf" cx="42.5" cy="94.5" r="33.5"/><text class="t" x="42.5" y="92">q:10</text><text class="t" x="42.5" y="105.5">q’:30</text></g>
<g id="h-n2"><circle class="g" cx="143.8" cy="94.5" r="33.5"/><path class="o" d="M120.11,118.19A33.5,33.5 0 0 0 167.49,70.81Z"/><circle class="nd nf" cx="143.8" cy="94.5" r="33.5"/><text class="t" x="143.8" y="92">q:12</text><text class="t" x="143.8" y="105.5">q’:30</text></g>
<g id="h-n3"><circle class="g" cx="244.7" cy="94.5" r="33.5"/><path class="o" d="M221.01,118.19A33.5,33.5 0 0 0 268.39,70.81Z"/><circle class="nd nf" cx="244.7" cy="94.5" r="33.5"/><text class="t" x="244.7" y="92">q:4</text><text class="t" x="244.7" y="105.5">q’:10</text></g>
<g id="h-n4"><circle class="g" cx="345.8" cy="94.5" r="33.5"/><path class="o" d="M322.11,118.19A33.5,33.5 0 0 0 369.49,70.81Z"/><circle class="nd nf" cx="345.8" cy="94.5" r="33.5"/><text class="t" x="345.8" y="92">q:18</text><text class="t" x="345.8" y="105.5">q’:9</text></g>
<g id="h-n5"><circle class="nd w" cx="93.2" cy="196.7" r="33.5"/><text class="t" x="93.2" y="194.2">q:26</text><text class="t" x="93.2" y="207.7">q’:30</text></g>
<g id="h-n6"><circle class="nd g" cx="244.7" cy="196.7" r="33.5"/><text class="t" x="244.7" y="194.2">q:10</text><text class="t" x="244.7" y="207.7">q’:9</text></g>
<g id="h-n7"><circle class="nd g" cx="42.5" cy="298.4" r="33.5"/><text class="t" x="42.5" y="295.9">q:30</text><text class="t" x="42.5" y="309.4">q’:<tspan class="inf">−∞</tspan></text></g>
<g id="h-n8"><circle class="nd w" cx="143.8" cy="298.4" r="33.5"/><text class="t" x="143.8" y="295.9">q:14</text><text class="t" x="143.8" y="309.4">q’:<tspan class="inf">−∞</tspan></text></g>
<g id="h-n9"><circle class="nd w" cx="294.8" cy="298.4" r="33.5"/><text class="t" x="294.8" y="295.9">q:9</text><text class="t" x="294.8" y="309.4">q’:<tspan class="inf">−∞</tspan></text></g>
</g>

<!-- Panel i -->
<g id="panel-i" transform="translate(797,840)">
<g id="i-edges">
<path class="e" d="M186.7,11.7 C150,13.5 100,28 64,67.7"/>
<path class="e" d="M186.5,20.5 L155,62.7"/>
<path class="e" d="M200.9,20.5 L232.4,62.7"/>
<path class="e" d="M200.7,11.7 C237.4,13.5 287.4,28 323.4,67.7"/>
<path class="e" d="M78,165.3 L59.3,125.3"/>
<path class="e" d="M108.5,165.3 L127.5,125.3"/>
<path class="e" d="M244.7,163.2 L244.7,128.2"/>
<path class="e" d="M304.5,265.5 L336,127.3"/>
<path class="e" d="M57.3,267.3 L77.3,227.3"/>
<path class="e" d="M129.3,267.3 L109.3,227.3"/>
<path class="e" d="M280.2,267.5 L260.3,228"/>
<g class="lbl"><rect x="112.8" y="11.5" width="32" height="22"/><text x="128.8" y="26">{<tspan class="it">r</tspan><tspan class="sb" dy="3">3</tspan><tspan dy="-3">}</tspan></text></g>
<g class="lbl"><rect x="156" y="25.5" width="32" height="22"/><text x="172" y="40">{<tspan class="it">r</tspan><tspan class="sb" dy="3">1</tspan><tspan dy="-3">}</tspan></text></g>
<g class="lbl"><rect x="199.3" y="25.5" width="32" height="22"/><text x="215.3" y="40">{<tspan class="it">r</tspan><tspan class="sb" dy="3">2</tspan><tspan dy="-3">}</tspan></text></g>
<g class="lbl"><rect x="242.5" y="11.5" width="32" height="22"/><text x="258.5" y="26">{<tspan class="it">r</tspan><tspan class="sb" dy="3">4</tspan><tspan dy="-3">}</tspan></text></g>
<g class="lbl"><rect x="53" y="139" width="32" height="22"/><text x="69" y="153.5">{<tspan class="it">r</tspan><tspan class="sb" dy="3">1</tspan><tspan dy="-3">}</tspan></text></g>
<g class="lbl"><rect x="99.7" y="139" width="32" height="22"/><text x="115.7" y="153.5">{<tspan class="it">r</tspan><tspan class="sb" dy="3">3</tspan><tspan dy="-3">}</tspan></text></g>
<g class="lbl"><rect x="228.7" y="139" width="32" height="22"/><text x="244.7" y="153.5">{<tspan class="it">r</tspan><tspan class="sb" dy="3">4</tspan><tspan dy="-3">}</tspan></text></g>
<g class="lbl"><rect x="292.7" y="199.7" width="46" height="22"/><text x="315.7" y="214.2">{<tspan class="it">r</tspan><tspan class="sb" dy="3">2</tspan><tspan dy="-3">, </tspan><tspan class="it">r</tspan><tspan class="sb" dy="3">3</tspan><tspan dy="-3">}</tspan></text></g>
<g class="lbl"><rect x="49.7" y="239" width="32" height="22"/><text x="65.7" y="253.5">{<tspan class="it">r</tspan><tspan class="sb" dy="3">2</tspan><tspan dy="-3">}</tspan></text></g>
<g class="lbl"><rect x="104.7" y="239" width="32" height="22"/><text x="120.7" y="253.5">{<tspan class="it">r</tspan><tspan class="sb" dy="3">4</tspan><tspan dy="-3">}</tspan></text></g>
<g class="lbl"><rect x="254.7" y="239" width="32" height="22"/><text x="270.7" y="253.5">{<tspan class="it">r</tspan><tspan class="sb" dy="3">3</tspan><tspan dy="-3">}</tspan></text></g>
</g>
<g id="i-root"><text class="root" transform="translate(193.7,15.5) scale(0.8,1.2)">∅</text></g>
<g id="i-n1"><circle class="nd w" cx="42.5" cy="94.5" r="33.5"/><text class="t" x="42.5" y="92">q:10</text><text class="t" x="42.5" y="105.5">q’:30</text></g>
<g id="i-n2"><circle class="nd w" cx="143.8" cy="94.5" r="33.5"/><text class="t" x="143.8" y="92">q:12</text><text class="t" x="143.8" y="105.5">q’:30</text></g>
<g id="i-n3"><circle class="nd w" cx="244.7" cy="94.5" r="33.5"/><text class="t" x="244.7" y="92">q:4</text><text class="t" x="244.7" y="105.5">q’:10</text></g>
<g id="i-n4"><circle class="nd g" cx="345.8" cy="94.5" r="33.5"/><text class="t" x="345.8" y="92">q:18</text><text class="t" x="345.8" y="105.5">q’:9</text></g>
<g id="i-n5"><circle class="nd w" cx="93.2" cy="196.7" r="33.5"/><text class="t" x="93.2" y="194.2">q:26</text><text class="t" x="93.2" y="207.7">q’:30</text></g>
<g id="i-n6"><circle class="nd g" cx="244.7" cy="196.7" r="33.5"/><text class="t" x="244.7" y="194.2">q:10</text><text class="t" x="244.7" y="207.7">q’:9</text></g>
<g id="i-n7"><circle class="nd g" cx="42.5" cy="298.4" r="33.5"/><text class="t" x="42.5" y="295.9">q:30</text><text class="t" x="42.5" y="309.4">q’:<tspan class="inf">−∞</tspan></text></g>
<g id="i-n8"><circle class="nd w" cx="143.8" cy="298.4" r="33.5"/><text class="t" x="143.8" y="295.9">q:14</text><text class="t" x="143.8" y="309.4">q’:<tspan class="inf">−∞</tspan></text></g>
<g id="i-n9"><circle class="nd w" cx="294.8" cy="298.4" r="33.5"/><text class="t" x="294.8" y="295.9">q:9</text><text class="t" x="294.8" y="309.4">q’:<tspan class="inf">−∞</tspan></text></g>
</g>

<!-- Captions -->
<g id="captions">
<text class="cap" x="43.3" y="363" textLength="307.5" lengthAdjust="spacingAndGlyphs">(a) Initial state in line 2.</text>
<text class="cap" x="480.6" y="363" textLength="226.8" lengthAdjust="spacingAndGlyphs">(b) <tspan class="it">i</tspan> = 1 in line 3.</text>
<text class="cap" x="879" y="363" textLength="226.8" lengthAdjust="spacingAndGlyphs">(c) <tspan class="it">i</tspan> = 2 in line 3.</text>
<text class="cap" x="83.6" y="754" textLength="226.8" lengthAdjust="spacingAndGlyphs">(d) <tspan class="it">i</tspan> = 3 in line 3.</text>
<text class="cap" transform="translate(408,754) scale(1.09,1)" x="0" y="0" word-spacing="5.9" textLength="343.1" lengthAdjust="spacing">(e) State after line 12: green</text>
<text class="cap" transform="translate(408,790) scale(1.09,1)" x="0" y="0" word-spacing="10.4" textLength="343.1" lengthAdjust="spacing">vertices are better than any</text>
<text class="cap" x="408" y="826" textLength="148.2" lengthAdjust="spacingAndGlyphs">predecessor.</text>
<text class="cap" x="875.6" y="754" textLength="233.8" lengthAdjust="spacingAndGlyphs">(f) <tspan class="it">i</tspan> = 3 in line 14.</text>
<text class="cap" x="77.3" y="1211" textLength="239.3" lengthAdjust="spacingAndGlyphs">(g) <tspan class="it">i</tspan> = 2 in line 14.</text>
<text class="cap" x="473.5" y="1211" textLength="240.9" lengthAdjust="spacingAndGlyphs">(h) <tspan class="it">i</tspan> = 1 in line 14.</text>
<text class="cap" transform="translate(806,1211) scale(1.09,1)" x="0" y="0" word-spacing="7.3" textLength="343.1" lengthAdjust="spacing">(i) Final state, after line 23:</text>
<text class="cap" transform="translate(806,1247) scale(1.09,1)" x="0" y="0" word-spacing="4.9" textLength="343.1" lengthAdjust="spacing">green vertices are better than</text>
<text class="cap" x="806" y="1283" textLength="366.6" lengthAdjust="spacingAndGlyphs">any predecessor or successor.</text>
</g>
</svg>
